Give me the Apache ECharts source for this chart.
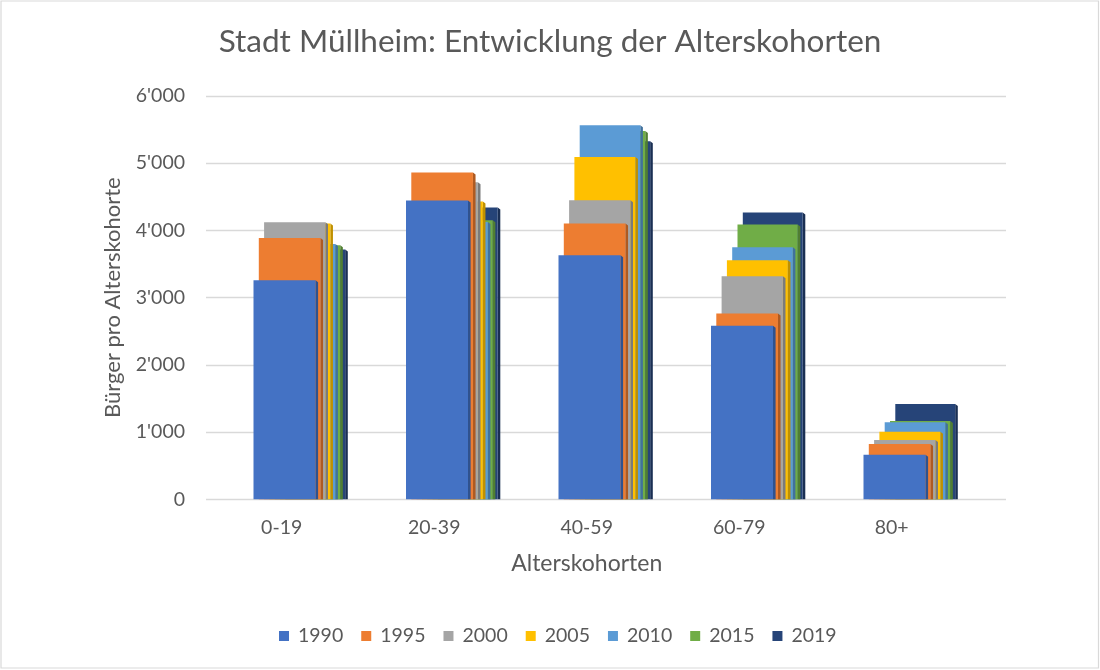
<!DOCTYPE html>
<html>
<head>
<meta charset="utf-8">
<script src="https://cdn.jsdelivr.net/npm/echarts@6/dist/echarts.min.js"></script>
<style>
html,body{margin:0;padding:0;background:#fff;}
#chart{width:1100px;height:670px;}
</style>
</head>
<body>
<div id="chart"></div>
<script>
// ---- data ----
const categories = ['0-19', '20-39', '40-59', '60-79', '80+'];
const years = ['1990', '1995', '2000', '2005', '2010', '2015', '2019'];
const v1990 = [3260, 4445, 3632, 2581, 663];
const v1995 = [3889, 4861, 4103, 2765, 822];
const v2000 = [4122, 4717, 4449, 3319, 882];
const v2005 = [4103, 4430, 5093, 3557, 1005];
const v2010 = [3800, 4127, 5564, 3750, 1145];
const v2015 = [3780, 4152, 5479, 4088, 1164];
const v2019 = [3716, 4341, 5326, 4266, 1417];
const yTickLabels = ['0', "1'000", "2'000", "3'000", "4'000", "5'000", "6'000"];

const seriesValues = [v1990, v1995, v2000, v2005, v2010, v2015, v2019];
const colors = ['#4472C4', '#ED7D31', '#A5A5A5', '#FFC000', '#5B9BD5', '#70AD47', '#264478'];
const sideColors = ['#2F528F', '#AE5A21', '#7B7B7B', '#BF9000', '#41719C', '#507E32', '#1A2F53'];

const FONT = 'Lato';
const TXT = '#595959';

const chart = echarts.init(document.getElementById('chart'));

function makeRender(k) {
  return function (params, api) {
    const top = api.coord([api.value(0), api.value(1)]);
    const base = api.coord([api.value(0), 0]);
    const w = 62 - 0.35 * k;
    const side = 2.6;
    const x0 = top[0] - 28.2 + k * 5.3;
    return {
      type: 'group',
      children: [
        {
          type: 'polygon',
          shape: { points: [[x0 + w, top[1]], [x0 + w + side, top[1] + 2], [x0 + w + side, base[1]], [x0 + w, base[1]]] },
          style: { fill: sideColors[k] }
        },
        {
          type: 'rect',
          shape: { x: x0, y: top[1], width: w, height: base[1] - top[1] },
          style: { fill: colors[k] }
        }
      ]
    };
  };
}

const series = years.map((y, k) => ({
  name: y,
  type: 'custom',
  xAxisIndex: 0,
  yAxisIndex: 0,
  z: 20 - k,
  itemStyle: { color: colors[k] },
  renderItem: makeRender(k),
  encode: { x: 0, y: 1 },
  data: seriesValues[k].map((v, i) => [i, v])
}));

const option = {
  backgroundColor: '#ffffff',
  animation: false,
  color: colors,
  title: {
    text: 'Stadt Müllheim: Entwicklung der Alterskohorten',
    left: 'center',
    top: 21,
    textStyle: { fontFamily: FONT, fontSize: 31.5, fontWeight: 'normal', color: TXT }
  },
  legend: {
    data: years,
    left: 274,
    top: 621,
    icon: 'rect',
    itemWidth: 10,
    itemHeight: 10,
    itemGap: 18,
    textStyle: { fontFamily: FONT, fontSize: 19.5, color: TXT, padding: [0, 0, 0, 4] }
  },
  grid: [
    { left: 205.45, width: 762.5, top: 96, height: 403.3, containLabel: false },
    { left: 206, width: 800, top: 96, height: 403.3, containLabel: false }
  ],
  xAxis: [
    {
      type: 'category', gridIndex: 0, data: categories,
      axisLine: { show: false }, axisTick: { show: false },
      axisLabel: { fontFamily: FONT, fontSize: 19.5, color: TXT, margin: 18 },
      name: 'Alterskohorten', nameLocation: 'middle', nameGap: 53,
      nameTextStyle: { fontFamily: FONT, fontSize: 23, color: TXT }
    },
    {
      type: 'value', gridIndex: 1, min: 0, max: 1, show: false
    }
  ],
  yAxis: [
    {
      type: 'value', gridIndex: 0, min: 0, max: 6000, interval: 1000, show: false
    },
    {
      type: 'value', gridIndex: 1, min: 0, max: 6000, interval: 1000,
      axisLine: { show: false }, axisTick: { show: false },
      splitLine: { lineStyle: { color: '#d9d9d9', width: 1.3 } },
      axisLabel: {
        fontFamily: FONT, fontSize: 19.5, color: TXT, margin: 21,
        formatter: function (v) { return yTickLabels[Math.round(v / 1000)]; }
      },
      name: 'Bürger pro Alterskohorte', nameLocation: 'middle', nameGap: 82,
      nameTextStyle: { fontFamily: FONT, fontSize: 22, color: TXT }
    }
  ],
  graphic: [
    {
      type: 'rect', silent: true, z: -1,
      shape: { x: 1, y: 1, width: 1097.5, height: 667 },
      style: { fill: 'none', stroke: '#d9d9d9', lineWidth: 1.2 }
    }
  ],
  series: series
};
chart.setOption(option);
</script>
</body>
</html>
